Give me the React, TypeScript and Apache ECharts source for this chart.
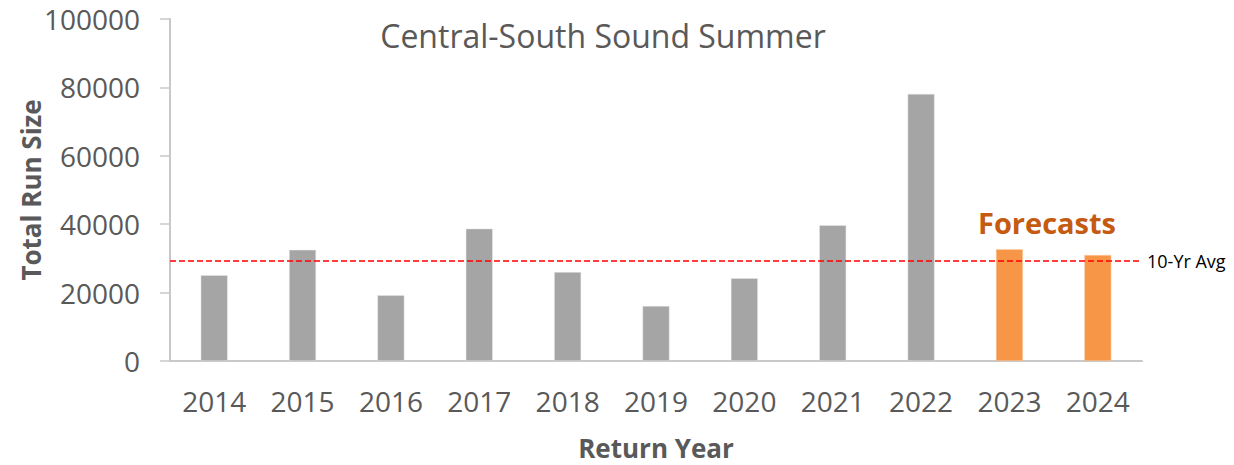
import React, { useEffect, useRef } from "react";
import * as echarts from "echarts";

const years = ["2014", "2015", "2016", "2017", "2018", "2019", "2020", "2021", "2022", "2023", "2024"];
const observed = [25100, 32500, 19200, 38700, 26000, 16100, 24200, 39700, 78100, null, null];
const forecasts = [null, null, null, null, null, null, null, null, null, 32700, 31000];
const tenYearAvg = 29200;
const chartTitle = "Central-South Sound Summer";
const forecastLabel = "Forecasts";
const avgLabel = "10-Yr Avg";

const FONT = "'Open Sans', 'Liberation Sans', sans-serif";

export default function App() {
  const ref = useRef<HTMLDivElement>(null);
  useEffect(() => {
    document.body.style.margin = "0";
    const chart = echarts.init(ref.current!, null, { renderer: "svg" });
    chart.setOption({
      animation: false,
      textStyle: { fontFamily: FONT },
      title: {
        text: chartTitle,
        left: 598,
        textAlign: "center",
        top: 14,
        textStyle: { fontFamily: FONT, fontSize: 32, fontWeight: "normal", color: "#595959" },
      },
      grid: { left: 170, right: 92, top: 19, bottom: 104, outerBoundsMode: "none", containLabel: false },
      xAxis: {
        type: "category",
        data: years,
        axisTick: { show: false },
        axisLine: { lineStyle: { color: "#c8c8c8", width: 2 } },
        axisLabel: { fontSize: 28, color: "#595959", margin: 26, fontFamily: FONT },
        name: "Return Year",
        nameLocation: "middle",
        nameGap: 74,
        nameTextStyle: { fontSize: 26, fontWeight: "bold", color: "#595959", fontFamily: FONT },
      },
      yAxis: {
        type: "value",
        min: 0,
        max: 100000,
        interval: 20000,
        splitLine: { show: false },
        axisLine: { show: true, lineStyle: { color: "#c8c8c8", width: 2 } },
        axisTick: { show: true, length: 10, lineStyle: { color: "#c8c8c8", width: 1.5 } },
        axisLabel: {
          fontSize: 28,
          color: "#595959",
          margin: 30,
          fontFamily: FONT,
          formatter: (v: number) => String(v),
        },
        name: "Total Run Size",
        nameLocation: "middle",
        nameGap: 126,
        nameMoveOverlap: false,
        nameTextStyle: { fontSize: 26, fontWeight: "bold", color: "#595959", fontFamily: FONT },
      },
      series: [
        {
          type: "bar",
          data: observed,
          stack: "a",
          barWidth: "30.5%",
          itemStyle: { color: "#a5a5a5", borderColor: "#e8e8e8", borderWidth: 0.5 },
          markLine: {
            symbol: "none",
            silent: true,
            lineStyle: { color: "#ff0000", type: [6, 3], width: 1.5 },
            label: {
              show: true,
              position: "end",
              formatter: avgLabel,
              color: "#000000",
              fontSize: 18,
              distance: 5,
              fontFamily: FONT,
            },
            data: [{ yAxis: tenYearAvg }],
          },
        },
        {
          type: "bar",
          data: forecasts,
          stack: "a",
          barWidth: "30.5%",
          itemStyle: { color: "#f79646", borderColor: "#fbd0b0", borderWidth: 0.5 },
        },
      ],
      graphic: [
        {
          type: "text",
          x: 1047,
          y: 222,
          style: {
            text: forecastLabel,
            fill: "#c55a11",
            font: `bold 29px ${FONT}`,
            textAlign: "center",
            textVerticalAlign: "middle",
          },
        },
      ],
    });
    return () => chart.dispose();
  }, []);
  return <div ref={ref} style={{ width: 1234, height: 465 }} />;
}
